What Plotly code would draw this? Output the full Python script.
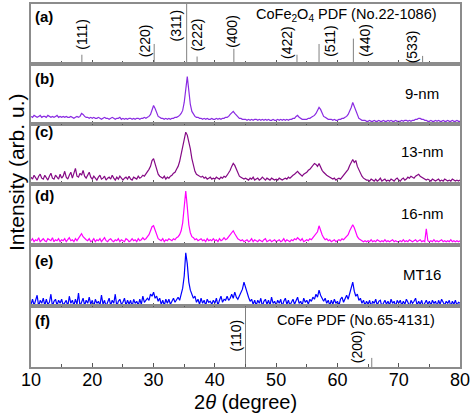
import plotly.graph_objects as go

# ---------------- data ----------------
step_deg = 0.25
start_deg = 10.0

# CoFe2O4 PDF card No.22-1086
pdf_a_2theta = [18.3, 30.1, 35.4, 37.1, 43.1, 53.4, 57.0, 62.6, 73.9]
pdf_a_int = [15, 33, 100, 12, 25, 15, 33, 42, 13]
pdf_a_hkl = ["(111)", "(220)", "(311)", "(222)", "(400)", "(422)", "(511)", "(440)", "(533)"]

# CoFe PDF card No.65-4131
pdf_f_2theta = [45.0, 65.6]
pdf_f_int = [100, 15]
pdf_f_hkl = ["(110)", "(200)"]

# XRD patterns, 10..80 deg every 0.25 deg
i_9nm = [
    8,7,9,8,7,8,9,7,8,8,7,9,8,7,8,7,8,9,7,8,
    7,8,7,8,7,7,8,7,6,7,8,7,8,11,10,8,7,7,6,7,
    6,7,6,6,7,6,5,6,7,6,6,5,6,7,6,5,6,6,7,5,
    6,5,6,5,6,6,5,6,5,6,6,5,6,6,7,6,7,8,10,14,
    19,16,11,8,7,6,6,5,6,5,6,5,6,6,7,7,8,9,11,14,
    22,38,48,34,20,13,10,8,7,7,6,6,5,6,5,6,5,5,6,5,
    5,6,5,6,5,6,6,7,7,8,10,12,13,11,9,7,6,6,5,5,
    5,4,5,4,5,4,5,5,4,5,4,5,4,5,4,5,4,4,5,4,
    4,5,4,5,4,5,4,5,4,5,5,6,6,8,9,7,6,5,5,5,
    5,6,6,7,8,9,11,14,17,15,11,8,7,6,5,5,5,4,5,4,
    4,5,5,6,6,7,8,10,13,17,22,18,12,8,6,5,4,4,4,3,
    3,4,3,3,4,3,3,4,3,3,4,3,3,4,3,4,3,3,4,3,
    3,3,4,3,4,4,3,4,3,4,4,5,5,6,6,5,5,4,4,3,
    3,4,3,3,4,3,4,3,3,4,3,3,4,3,3,4,3,3,4,3,3,
]
i_13nm = [
    7,5,9,6,4,8,10,6,5,9,7,4,8,11,6,5,9,7,5,10,
    6,8,13,7,5,9,12,6,10,16,8,7,11,9,14,8,6,10,12,7,
    5,8,6,4,7,9,5,6,8,4,6,7,5,9,6,4,7,5,8,6,
    4,6,7,5,8,5,4,7,6,5,8,6,7,9,8,10,12,15,18,24,
    26,20,14,10,8,7,6,8,5,7,6,8,9,11,12,15,18,23,30,38,
    46,53,50,44,36,26,18,13,10,9,8,7,8,6,7,5,6,7,5,6,
    5,7,6,5,7,6,8,7,9,11,14,18,21,19,15,11,8,7,6,5,
    6,5,4,6,5,7,4,5,6,4,5,7,5,4,6,5,4,6,5,4,
    5,4,6,5,4,5,6,5,7,6,8,9,10,12,13,11,9,8,10,11,
    12,14,15,17,19,21,20,18,21,17,14,12,10,9,8,7,6,5,6,4,
    5,6,5,7,8,10,12,15,19,23,25,22,24,18,14,10,8,6,5,4,
    4,3,5,4,3,5,3,4,6,3,4,5,3,4,3,5,4,3,5,6,
    4,3,5,6,4,5,7,6,8,7,6,8,9,10,8,7,6,5,4,5,
    4,3,5,4,3,4,5,3,4,3,5,4,3,4,3,5,4,3,4,3,4,
]
i_16nm = [
    4,6,3,5,4,7,3,5,6,4,3,6,5,4,7,3,5,4,6,3,
    5,4,6,3,5,7,4,5,3,6,4,6,9,11,8,6,5,4,6,3,
    4,6,3,5,4,6,3,5,7,4,3,5,6,4,3,5,4,6,3,5,
    4,3,6,5,3,4,6,4,5,3,6,4,5,7,5,6,8,10,14,18,
    19,14,9,6,5,4,6,3,5,4,6,5,4,6,5,7,8,10,14,22,
    36,54,38,20,12,8,7,5,6,4,5,6,4,5,3,6,4,5,4,6,
    4,5,3,6,4,5,7,5,6,8,10,12,14,11,8,6,5,4,5,3,
    4,5,3,4,6,3,5,4,3,5,4,3,5,6,3,4,5,3,4,5,
    3,4,5,3,4,6,3,5,4,3,5,4,6,5,7,5,4,6,3,4,
    5,4,6,5,7,8,10,13,19,14,10,7,5,6,4,5,3,4,5,3,
    4,5,4,6,5,7,8,10,14,18,20,17,12,8,6,5,4,3,4,3,
    4,3,5,3,4,3,5,4,3,4,3,5,3,4,3,4,5,3,4,3,
    3,4,3,5,3,4,3,5,4,3,4,5,3,4,5,3,4,3,16,4,
    3,4,3,5,3,4,3,4,5,3,4,3,4,3,5,3,4,3,4,3,4,
]
i_mt16 = [
    2,7,1,5,11,0,6,3,8,1,7,2,4,12,0,5,7,1,6,3,
    7,1,4,6,0,10,3,6,1,7,2,13,0,5,8,1,6,3,9,2,
    6,0,7,3,5,1,11,2,6,0,4,8,1,6,3,12,0,5,7,2,
    4,8,1,6,2,6,0,7,3,5,1,7,2,10,4,6,8,6,12,10,
    14,8,10,5,8,2,6,1,7,3,7,2,5,8,4,7,9,6,13,18,
    30,53,42,24,16,12,8,10,4,7,2,8,3,6,1,7,4,5,2,6,
    3,8,1,6,10,4,7,6,10,6,8,12,8,14,9,7,10,13,17,24,
    18,12,9,5,7,2,6,1,6,3,8,0,5,7,2,6,1,9,3,5,
    1,6,3,7,0,5,8,2,6,1,4,7,2,6,9,3,5,1,8,4,
    6,2,7,5,9,7,12,9,16,11,8,5,8,3,6,1,6,2,7,3,
    5,1,7,9,4,8,11,7,13,18,24,15,10,12,6,8,3,6,1,5,
    2,6,0,5,3,7,1,5,6,0,4,6,2,5,1,7,3,5,0,6,
    3,6,1,5,2,7,4,0,6,3,5,8,1,5,2,6,0,4,6,2,
    5,1,6,3,5,0,6,2,7,4,1,5,3,6,0,5,2,6,1,4,3,
]

series = [
    ("9-nm", i_9nm, "#8a2be2"),
    ("13-nm", i_13nm, "#850a85"),
    ("16-nm", i_16nm, "#ff00ff"),
    ("MT16", i_mt16, "#0000ff"),
]

# ---------------- layout helpers ----------------
W, H = 472, 414
ML, MR, MT, MB = 31, 11, 2, 47
PW, PH = W - ML - MR, H - MT - MB
FONT = "Liberation Sans, Arial, sans-serif"
AXC = "#8c8c8c"


def pyp(p):
    return (H - MB - p) / PH


def pxp(p):
    return (p - ML) / PW


bounds = [2, 62, 123, 183, 244, 306, 367]

fig = go.Figure()


def stick_trace(xs, hs, ax):
    lx, ly = [], []
    for xv, hv in zip(xs, hs):
        lx += [xv, xv, None]
        ly += [0, hv, None]
    return go.Scatter(x=lx, y=ly, mode="lines", line=dict(color="#808080", width=1),
                      xaxis="x" + ax, yaxis="y" + ax, hoverinfo="skip", showlegend=False)


fig.add_trace(stick_trace(pdf_a_2theta, pdf_a_int, "1"))
fig.add_trace(stick_trace(pdf_f_2theta, pdf_f_int, "6"))

for k, (name, vals, col) in enumerate(series):
    ax = str(k + 2)
    xs = [start_deg + step_deg * i for i in range(len(vals))]
    fig.add_trace(go.Scatter(x=xs, y=vals, mode="lines", name=name,
                             line=dict(color=col, width=1.2),
                             xaxis="x" + ax, yaxis="y" + ax, showlegend=False))

layout = dict(
    width=W, height=H,
    margin=dict(l=ML, r=MR, t=MT, b=MB),
    paper_bgcolor="white", plot_bgcolor="white",
    font=dict(family=FONT, color="black"),
    showlegend=False,
)

for i in range(1, 7):
    sfx = "" if i == 1 else str(i)
    top, bot = bounds[i - 1], bounds[i]
    layout["xaxis" + sfx] = dict(
        domain=[0, 1], range=[10, 80], anchor="y" + sfx,
        showline=True, mirror=True, linecolor=AXC, linewidth=1.5,
        ticks="inside", ticklen=4, tickwidth=1, tickcolor="#555555",
        tick0=10, dtick=10,
        minor=dict(ticks="inside", ticklen=3, tickcolor="#555555", dtick=5, tick0=10),
        showticklabels=(i == 6), tickfont=dict(size=18, family=FONT),
        ticklabelstandoff=-4,
        showgrid=False, zeroline=False,
    )
    if i in (1, 6):
        yr = [0, 100]
    else:
        yr = [0, 61]
    layout["yaxis" + sfx] = dict(
        domain=[pyp(bot), pyp(top)], range=yr, anchor="x" + sfx,
        showline=True, mirror=True, linecolor=AXC, linewidth=1.5,
        ticks="", showticklabels=False, showgrid=False, zeroline=False,
    )

fig.update_layout(**layout)

ann = []
# panel letters
letters = ["(a)", "(b)", "(c)", "(d)", "(e)", "(f)"]
letter_y = [15, 77, 130, 195, 260, 320]
for t, yv in zip(letters, letter_y):
    ann.append(dict(text="<b>%s</b>" % t, x=pxp(33), y=pyp(yv), xref="paper", yref="paper",
                    xanchor="left", yanchor="middle", showarrow=False,
                    font=dict(size=15, family=FONT)))

# sample names
name_y = [92, 150, 213, 274]
for (name, _, _), yv in zip(series, name_y):
    ann.append(dict(text=name, x=pxp(423), y=pyp(yv), xref="paper", yref="paper",
                    xanchor="center", yanchor="middle", showarrow=False,
                    font=dict(size=15, family=FONT)))

# PDF titles
ann.append(dict(text="CoFe<sub>2</sub>O<sub>4</sub> PDF (No.22-1086)", x=pxp(347), y=pyp(13),
                xref="paper", yref="paper", xanchor="center", yanchor="middle",
                showarrow=False, font=dict(size=14.5, family=FONT)))
ann.append(dict(text="CoFe PDF (No.65-4131)", x=pxp(357), y=pyp(320),
                xref="paper", yref="paper", xanchor="center", yanchor="middle",
                showarrow=False, font=dict(size=14.5, family=FONT)))

# hkl labels (label centre positions, layout only)
hkl_a_x = [18.3, 28.5, 33.6, 37.0, 42.8, 51.8, 58.8, 64.5, 72.1]
hkl_a_ypx = [32, 39, 24, 33, 30, 41, 39, 39, 45]
for t, xv, yv in zip(pdf_a_hkl, hkl_a_x, hkl_a_ypx):
    ann.append(dict(text=t, x=xv, y=pyp(yv), xref="x", yref="paper", textangle=-90,
                    xanchor="center", yanchor="middle", showarrow=False,
                    font=dict(size=14, family=FONT)))
hkl_f_x = [43.5, 63.2]
hkl_f_ypx = [335, 347]
for t, xv, yv in zip(pdf_f_hkl, hkl_f_x, hkl_f_ypx):
    ann.append(dict(text=t, x=xv, y=pyp(yv), xref="x6", yref="paper", textangle=-90,
                    xanchor="center", yanchor="middle", showarrow=False,
                    font=dict(size=14, family=FONT)))

# axis titles
ann.append(dict(text="2<i>θ</i> (degree)", x=pxp(246), y=pyp(402), xref="paper", yref="paper",
                xanchor="center", yanchor="middle", showarrow=False,
                font=dict(size=20, family=FONT)))
ann.append(dict(text="Intensity (arb. u.)", x=pxp(16), y=pyp(171), xref="paper", yref="paper",
                textangle=-90, xanchor="center", yanchor="middle", showarrow=False,
                font=dict(size=21, family=FONT)))

fig.update_layout(annotations=ann)
fig.write_html("out.html", config={"displayModeBar": False},
               post_script="document.body.style.margin='0';document.body.style.overflow='hidden';")
